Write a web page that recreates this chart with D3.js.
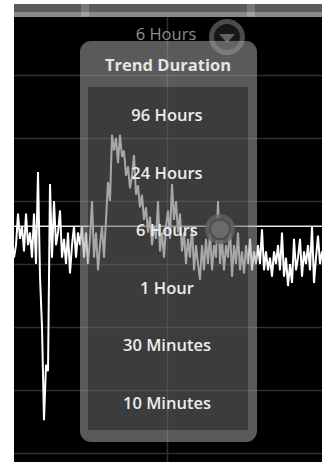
<!DOCTYPE html>
<html><head><meta charset="utf-8">
<script src="https://cdn.jsdelivr.net/npm/d3@7"></script>
<style>html,body{margin:0;padding:0;background:#fff;}svg{display:block;}</style>
</head><body>
<script>
// ---- data ----
const signal = [
 31,33,38,34,36,32,38,33,35,31,38,30,44.6,28,20,5.2,14,13,42.7,31,40,33,35,38.5,31,34,30,35,28.5,33,36,31,35,
 33,36,31,35,30,34,40,31,35,29,33,36,31,37,43,40,50.5,48,50,46,50.5,47,48,44,45.5,42,44,47.3,41,42.5,39,41,37,39,35,37.5,33,36,34,40,32,35,31,36,38.5,34,42.7,37,40,35,38,32,35,30,34,31,36,29,33,30,27.5,33,29,34,30,35,29,33,31,40,30,34,29,33,31,36,28,33,30,35,29,32,28.5,33,30,34,29,32,30,
 33,30,35.5,29,32,29,31,28,32,30,33,29,35,28,31,26.5,30,27,34,29,31,34,28,32,30,33,29,36,27,31,34.5,30,32
];
const yTicks = [0,10,20,30,40,50,60];
const xGrid = [76.5];
const threshold = 36;
const handleIndex = 103;
const title = "Trend Duration";
const currentLabel = "6 Hours";
const options = ["96 Hours","24 Hours","6 Hours","1 Hour","30 Minutes","10 Minutes"];

// ---- drawing ----
const W = 324, H = 462;
const svg = d3.select("body").append("svg").attr("width", W).attr("height", H);
const plotL = 14, plotR = 322, plotT = 17;
const x = d3.scaleLinear().domain([0, signal.length - 1]).range([plotL, plotR]);
const y = d3.scaleLinear().domain([0, 60]).range([453, 75]);

svg.append("rect").attr("width", W).attr("height", H).attr("fill", "#fff");
svg.append("rect").attr("x", plotL).attr("y", plotT).attr("width", plotR - plotL).attr("height", H - plotT).attr("fill", "#000");

// header bar
svg.append("rect").attr("x", plotL).attr("y", 4).attr("width", plotR - plotL).attr("height", 8).attr("fill", "#5b5b5b");
svg.append("rect").attr("x", plotL).attr("y", 12).attr("width", plotR - plotL).attr("height", 5).attr("fill", "#8a8a8a");
[[81, 89], [247, 255]].forEach(([a, b]) => {
  svg.append("rect").attr("x", a).attr("y", 4).attr("width", b - a).attr("height", 13).attr("fill", "#fff").attr("opacity", 0.18);
});

// grid
const g = svg.append("g");
g.selectAll("line.h").data(yTicks).join("line").attr("class", "h")
  .attr("x1", plotL).attr("x2", plotR).attr("y1", d => y(d) + 0.5).attr("y2", d => y(d) + 0.5)
  .attr("stroke", "#2f2f2f").attr("stroke-width", 1.5);
g.selectAll("line.v").data(xGrid).join("line").attr("class", "v")
  .attr("x1", d => Math.round(x(d)) + 0.5).attr("x2", d => Math.round(x(d)) + 0.5).attr("y1", plotT).attr("y2", H)
  .attr("stroke", "#2f2f2f").attr("stroke-width", 1.5);

// threshold line
svg.append("line").attr("x1", plotL).attr("x2", plotR).attr("y1", y(threshold)).attr("y2", y(threshold))
  .attr("stroke", "#e6e6e6").attr("stroke-width", 1.5);

// signal
svg.append("path").datum(signal)
  .attr("d", d3.line().x((d, i) => x(i)).y(d => y(d)))
  .attr("fill", "none").attr("stroke", "#fff").attr("stroke-width", 2).attr("stroke-linejoin", "miter");

// handle on threshold
const hx = x(handleIndex), hy = y(threshold) + 3;
svg.append("circle").attr("cx", hx).attr("cy", hy).attr("r", 15).attr("fill", "#5e5e5e").attr("opacity", 0.8);
svg.append("circle").attr("cx", hx).attr("cy", hy).attr("r", 10).attr("fill", "#6e6e6e").attr("stroke", "#262626").attr("stroke-width", 2);

// current value label and dropdown button
svg.append("text").attr("x", 166).attr("y", 40).attr("text-anchor", "middle")
  .attr("font-family", "Open Sans, sans-serif").attr("font-size", 16.5).attr("fill", "#8e8e8e").text(currentLabel);
const bx = 227, by = 37;
svg.append("circle").attr("cx", bx).attr("cy", by).attr("r", 15.5).attr("fill", "#161616").attr("stroke", "#4a4a4a").attr("stroke-width", 5);
svg.append("path").attr("d", `M${bx - 8},${by - 3}L${bx + 8},${by - 3}L${bx},${by + 6}Z`).attr("fill", "#626262");

// panel overlay
const px0 = 80, px1 = 257, py0 = 41, py1 = 442, pr = 11;
const ix0 = 88, ix1 = 248, iy0 = 87, iy1 = 430;
const outer = `M${px0 + pr},${py0}H${px1 - pr}A${pr},${pr} 0 0 1 ${px1},${py0 + pr}V${py1 - pr}A${pr},${pr} 0 0 1 ${px1 - pr},${py1}H${px0 + pr}A${pr},${pr} 0 0 1 ${px0},${py1 - pr}V${py0 + pr}A${pr},${pr} 0 0 1 ${px0 + pr},${py0}Z`;
const inner = `M${ix0},${iy0}V${iy1}H${ix1}V${iy0}Z`;
svg.append("path").attr("d", outer + inner).attr("fill-rule", "evenodd").attr("fill", "#a4a4a4").attr("opacity", 0.55);
svg.append("path").attr("d", inner).attr("fill", "#686868").attr("opacity", 0.58);

svg.append("text").attr("x", 168).attr("y", 71).attr("text-anchor", "middle")
  .attr("font-family", "Open Sans, sans-serif").attr("font-weight", 700).attr("font-size", 16.5)
  .attr("fill", "#e4e4e4").text(title);

const oy = d3.scalePoint().domain(options).range([121, 409]);
svg.selectAll("text.opt").data(options).join("text").attr("class", "opt")
  .attr("x", 167).attr("y", d => oy(d)).attr("text-anchor", "middle")
  .attr("font-family", "Open Sans, sans-serif").attr("font-weight", 600).attr("font-size", 16.5)
  .attr("fill", "#ececec").text(d => d);
</script>
</body></html>
